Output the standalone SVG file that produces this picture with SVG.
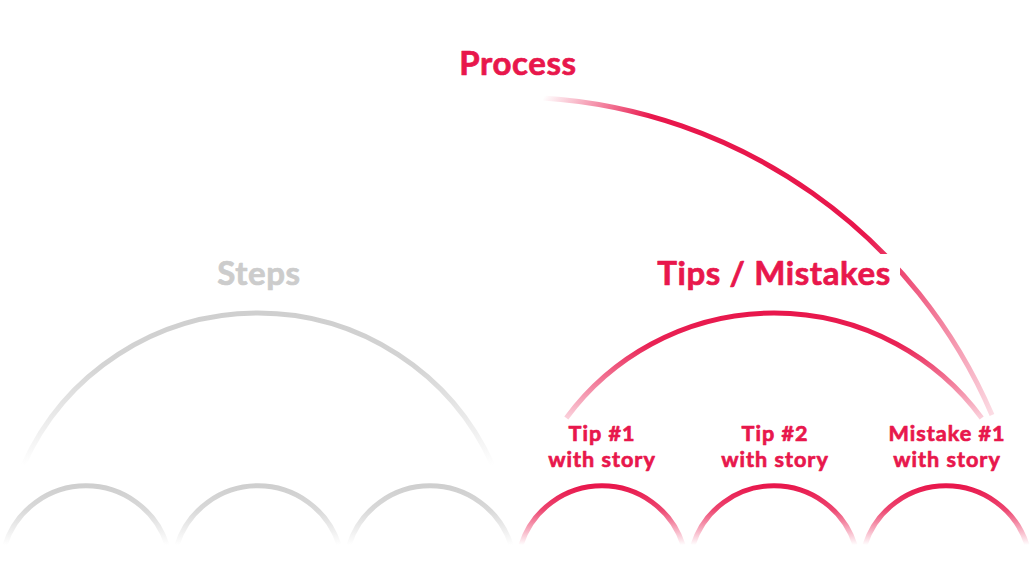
<svg xmlns="http://www.w3.org/2000/svg" width="1033" height="571" viewBox="0 0 1033 571">
<style>
  .lbl { font-family: Lato, "Liberation Sans", sans-serif; font-weight: 700; text-anchor: middle; stroke-width: 0.7; stroke-linejoin: round; }
  .pink { fill: #e8174c; stroke: #e8174c; }
  .gray { fill: #cccccc; stroke: #cccccc; }
  .big { font-size: 33px; letter-spacing: 0.6px; }
  .small { font-size: 21.6px; letter-spacing: 1px; }
  .arc { fill: none; stroke-width: 5; }
</style>
<defs>
  <linearGradient id="gSmallGray" x1="0" y1="0" x2="0" y2="1">
    <stop offset="0" stop-color="#cfcfcf" stop-opacity="1"/>
    <stop offset="0.4" stop-color="#cfcfcf" stop-opacity="0.8"/>
    <stop offset="1" stop-color="#cfcfcf" stop-opacity="0"/>
  </linearGradient>
  <linearGradient id="gSmallPink" x1="0" y1="0" x2="0" y2="1">
    <stop offset="0" stop-color="#e8174c" stop-opacity="1"/>
    <stop offset="0.4" stop-color="#e8174c" stop-opacity="0.8"/>
    <stop offset="1" stop-color="#e8174c" stop-opacity="0"/>
  </linearGradient>
  <linearGradient id="gBigGray" x1="0" y1="0" x2="0" y2="1">
    <stop offset="0" stop-color="#cfcfcf" stop-opacity="1"/>
    <stop offset="0.35" stop-color="#cfcfcf" stop-opacity="0.9"/>
    <stop offset="1" stop-color="#cfcfcf" stop-opacity="0"/>
  </linearGradient>
  <linearGradient id="gBigPink" x1="0" y1="0" x2="0" y2="1">
    <stop offset="0" stop-color="#e8174c" stop-opacity="1"/>
    <stop offset="0.3" stop-color="#e8174c" stop-opacity="0.95"/>
    <stop offset="1" stop-color="#e8174c" stop-opacity="0.2"/>
  </linearGradient>
  <linearGradient id="gProcess" gradientUnits="userSpaceOnUse" x1="543" y1="98" x2="992" y2="415">
    <stop offset="0" stop-color="#e8174c" stop-opacity="0"/>
    <stop offset="0.18" stop-color="#e8174c" stop-opacity="1"/>
    <stop offset="0.62" stop-color="#e8174c" stop-opacity="1"/>
    <stop offset="1" stop-color="#e8174c" stop-opacity="0.15"/>
  </linearGradient>
</defs>

<g id="connectors">
  <path id="process-arc" class="arc" stroke="url(#gProcess)" d="M 543 98 A 525 525 0 0 1 992 415"/>
</g>

<g id="process">
  <text class="lbl pink big" x="518" y="75">Process</text>
</g>

<g id="steps">
  <path class="arc" stroke="url(#gBigGray)" d="M 23.4 465 A 257 257 0 0 1 492.6 465"/>
  <text class="lbl gray big" x="259" y="285">Steps</text>
</g>

<g id="tips-mistakes">
  <rect x="652" y="254" width="248" height="40" fill="#ffffff"/>
  <path class="arc" stroke="url(#gBigPink)" d="M 566.3 418 A 258 258 0 0 1 981.7 418"/>
  <text class="lbl pink big" x="774" y="285">Tips / Mistakes</text>
</g>

<g id="step1">
  <path class="arc" stroke="url(#gSmallGray)" d="M 5 545 A 85 85 0 0 1 167 545"/>
</g>
<g id="step2">
  <path class="arc" stroke="url(#gSmallGray)" d="M 177 545 A 85 85 0 0 1 339 545"/>
</g>
<g id="step3">
  <path class="arc" stroke="url(#gSmallGray)" d="M 349 545 A 85 85 0 0 1 511 545"/>
</g>

<g id="tip1">
  <text class="lbl pink small" x="602" y="441">Tip #1</text>
  <text class="lbl pink small" x="602" y="467">with story</text>
  <path class="arc" stroke="url(#gSmallPink)" d="M 521 545 A 85 85 0 0 1 683 545"/>
</g>
<g id="tip2">
  <text class="lbl pink small" x="775" y="441">Tip #2</text>
  <text class="lbl pink small" x="775" y="467">with story</text>
  <path class="arc" stroke="url(#gSmallPink)" d="M 693 545 A 85 85 0 0 1 855 545"/>
</g>
<g id="mistake1">
  <text class="lbl pink small" x="947" y="441">Mistake #1</text>
  <text class="lbl pink small" x="947" y="467">with story</text>
  <path class="arc" stroke="url(#gSmallPink)" d="M 865 545 A 85 85 0 0 1 1027 545"/>
</g>
</svg>
